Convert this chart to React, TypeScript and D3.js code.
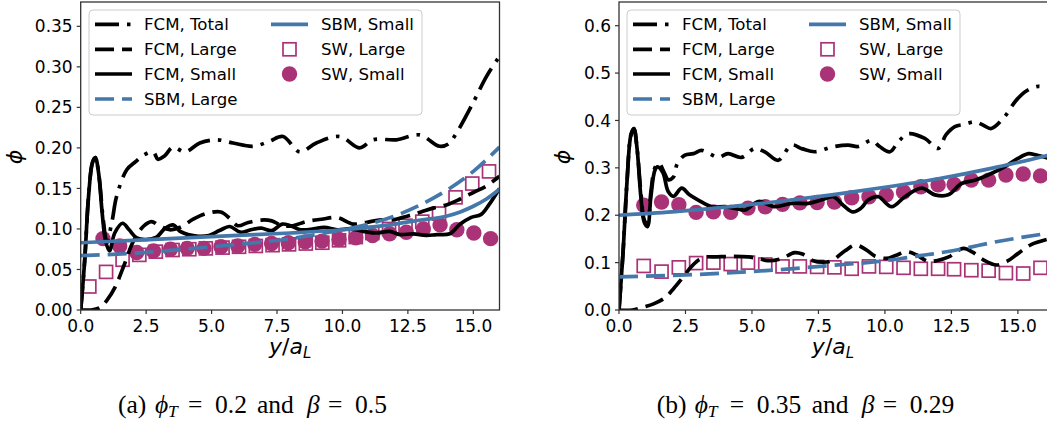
import React from 'react';
import * as d3 from 'd3';

type Pt = [number, number];

const W = 1047;
const H = 431;

const COLOR_FCM = '#000000';
const COLOR_SBM = '#4477AA';
const COLOR_SW = '#AA3377';

const xTicks = [0, 2.5, 5, 7.5, 10, 12.5, 15];
const leftYTicks = [0, 0.05, 0.1, 0.15, 0.2, 0.25, 0.3, 0.35];
const rightYTicks = [0, 0.1, 0.2, 0.3, 0.4, 0.5, 0.6];

const legendLabels = ['FCM, Total', 'FCM, Large', 'FCM, Small', 'SBM, Large', 'SBM, Small', 'SW, Large', 'SW, Small'];

// ---------- Panel (a): phi_T = 0.2, beta = 0.5 ----------
const aFcmTotal: Pt[] = [
  [0, 0], [0.15, 0.06], [0.3, 0.14], [0.45, 0.182], [0.56, 0.188], [0.7, 0.165], [0.85, 0.115], [1.0, 0.085],
  [1.2, 0.11], [1.37, 0.14], [1.76, 0.173], [2.1, 0.183], [2.4, 0.191], [2.77, 0.195], [2.95, 0.186], [3.2, 0.19],
  [3.53, 0.201], [3.98, 0.195], [4.55, 0.206], [5.19, 0.21], [5.82, 0.206], [6.59, 0.202], [7.2, 0.208],
  [7.73, 0.214], [8.37, 0.195], [9.0, 0.206], [9.9, 0.214], [10.66, 0.2], [11.17, 0.21], [12.06, 0.21],
  [12.95, 0.216], [13.71, 0.202], [14.05, 0.205], [14.35, 0.218], [14.98, 0.255], [15.5, 0.288], [16, 0.313],
];
const aFcmLarge: Pt[] = [
  [0, 0], [0.4, 0], [0.74, 0.003], [1.0, 0.012], [1.31, 0.028], [1.69, 0.058], [2.0, 0.084], [2.39, 0.103],
  [2.7, 0.109], [3.0, 0.104], [3.4, 0.099], [3.8, 0.102], [4.3, 0.112], [4.8, 0.119], [5.35, 0.121],
  [5.7, 0.113], [6.0, 0.104], [6.4, 0.108], [6.9, 0.111], [7.3, 0.11], [7.7, 0.104], [8.1, 0.104],
  [8.6, 0.109], [9.2, 0.112], [9.8, 0.114], [10.4, 0.106], [10.9, 0.108], [11.4, 0.111], [11.9, 0.111],
  [12.5, 0.116], [13.0, 0.121], [13.5, 0.126], [14.0, 0.13], [14.5, 0.137], [15.0, 0.145], [15.5, 0.153], [16, 0.165],
];
const aFcmSmall: Pt[] = [
  [0, 0], [0.15, 0.06], [0.3, 0.14], [0.45, 0.182], [0.56, 0.188], [0.68, 0.17], [0.82, 0.12], [0.95, 0.085],
  [1.1, 0.073], [1.3, 0.095], [1.6, 0.107], [1.85, 0.099], [2.14, 0.089], [2.5, 0.087], [2.9, 0.09],
  [3.2, 0.1], [3.53, 0.105], [3.8, 0.097], [4.1, 0.093], [4.5, 0.091], [4.9, 0.092], [5.3, 0.098], [5.7, 0.103],
  [6.1, 0.096], [6.5, 0.099], [6.9, 0.101], [7.3, 0.098], [7.7, 0.106], [8.0, 0.104], [8.4, 0.099],
  [8.9, 0.1], [9.3, 0.102], [9.8, 0.099], [10.3, 0.1], [10.8, 0.097], [11.3, 0.095], [11.8, 0.097],
  [12.2, 0.093], [12.7, 0.094], [13.2, 0.092], [13.6, 0.093], [14.1, 0.094], [14.5, 0.106], [14.9, 0.114],
  [15.3, 0.118], [15.6, 0.13], [16, 0.15],
];
const aSbmLarge: Pt[] = [
  [0, 0.067], [2, 0.07], [4, 0.075], [6, 0.081], [8, 0.088], [10, 0.099], [11, 0.106], [12, 0.116],
  [13, 0.13], [14, 0.148], [15, 0.171], [16, 0.201],
];
const aSbmSmall: Pt[] = [
  [0, 0.083], [2, 0.086], [4, 0.089], [6, 0.092], [8, 0.095], [10, 0.099], [11, 0.102], [12, 0.106],
  [13, 0.111], [14, 0.116], [14.5, 0.121], [15, 0.128], [15.5, 0.137], [16, 0.149],
];
const aSwLarge: Pt[] = [
  [0.33, 0.029], [0.97, 0.047], [1.6, 0.062], [2.24, 0.068], [2.87, 0.072], [3.51, 0.074], [4.15, 0.075],
  [4.78, 0.076], [5.42, 0.077], [6.05, 0.078], [6.69, 0.079], [7.33, 0.08], [7.96, 0.081], [8.6, 0.082],
  [9.23, 0.083], [9.87, 0.086], [10.51, 0.09], [11.14, 0.095], [11.78, 0.1], [12.41, 0.104], [13.05, 0.109],
  [13.69, 0.119], [14.32, 0.139], [14.96, 0.156], [15.6, 0.171],
];
const aSwSmall: Pt[] = [
  [0.85, 0.088], [1.49, 0.079], [2.14, 0.071], [2.78, 0.073], [3.43, 0.075], [4.07, 0.076], [4.71, 0.076],
  [5.36, 0.078], [6.0, 0.079], [6.65, 0.081], [7.29, 0.082], [7.93, 0.083], [8.58, 0.084], [9.22, 0.085],
  [9.87, 0.087], [10.51, 0.089], [11.15, 0.092], [11.8, 0.094], [12.44, 0.096], [13.09, 0.1], [13.73, 0.105],
  [14.37, 0.099], [15.02, 0.095], [15.66, 0.088],
];

// ---------- Panel (b): phi_T = 0.35, beta = 0.29 ----------
const bFcmTotal: Pt[] = [
  [0, 0], [0.15, 0.12], [0.3, 0.27], [0.45, 0.37], [0.56, 0.383], [0.68, 0.34], [0.82, 0.25], [0.95, 0.19],
  [1.07, 0.18], [1.2, 0.25], [1.35, 0.3], [1.5, 0.31], [1.7, 0.29], [1.85, 0.275], [2.04, 0.28], [2.2, 0.31],
  [2.48, 0.327], [2.8, 0.33], [3.1, 0.337], [3.4, 0.33], [3.73, 0.322], [4.1, 0.33], [4.6, 0.322],
  [5.11, 0.341], [5.5, 0.333], [5.99, 0.316], [6.49, 0.348], [6.9, 0.34], [7.37, 0.334], [8.0, 0.344],
  [8.62, 0.348], [9.0, 0.345], [9.5, 0.358], [9.8, 0.345], [10.19, 0.334], [10.5, 0.355], [10.88, 0.372],
  [11.5, 0.362], [12.0, 0.341], [12.3, 0.37], [12.63, 0.387], [13.0, 0.392], [13.38, 0.397], [13.7, 0.39],
  [14.0, 0.383], [14.5, 0.408], [14.9, 0.44], [15.26, 0.46], [15.76, 0.472], [16.17, 0.467],
];
const bFcmLarge: Pt[] = [
  [0, 0], [0.5, 0], [0.9, 0.006], [1.3, 0.013], [1.73, 0.026], [2.05, 0.045], [2.36, 0.066], [2.7, 0.09],
  [2.98, 0.105], [3.3, 0.112], [3.6, 0.112], [4.2, 0.113], [4.86, 0.112], [5.3, 0.108], [5.6, 0.104],
  [6.1, 0.108], [6.6, 0.121], [6.9, 0.118], [7.3, 0.104], [7.68, 0.101], [8.0, 0.104], [8.5, 0.125],
  [8.9, 0.137], [9.3, 0.127], [9.62, 0.114], [10.06, 0.109], [10.4, 0.115], [10.82, 0.123], [11.2, 0.116],
  [11.6, 0.103], [11.94, 0.104], [12.4, 0.112], [12.94, 0.13], [13.3, 0.122], [13.7, 0.106], [14.2, 0.095],
  [14.6, 0.103], [15.0, 0.119], [15.5, 0.138], [16.17, 0.15],
];
const bFcmSmall: Pt[] = [
  [0, 0], [0.15, 0.12], [0.3, 0.27], [0.45, 0.37], [0.56, 0.383], [0.68, 0.34], [0.82, 0.24], [0.95, 0.185],
  [1.07, 0.176], [1.2, 0.24], [1.35, 0.295], [1.45, 0.302], [1.65, 0.29], [1.85, 0.25], [2.05, 0.24],
  [2.36, 0.257], [2.65, 0.243], [2.98, 0.232], [3.48, 0.218], [4.0, 0.218], [4.4, 0.214], [4.74, 0.211],
  [5.24, 0.229], [5.86, 0.218], [6.49, 0.225], [7.12, 0.225], [7.6, 0.232], [8.06, 0.239], [8.45, 0.22],
  [8.8, 0.207], [9.1, 0.215], [9.37, 0.232], [9.75, 0.239], [10.25, 0.218], [10.75, 0.239], [11.38, 0.257],
  [11.88, 0.243], [12.38, 0.243], [12.88, 0.267], [13.38, 0.274], [13.88, 0.285], [14.5, 0.302], [15.0, 0.32],
  [15.4, 0.33], [15.7, 0.327], [16.17, 0.32],
];
const bSbmLarge: Pt[] = [
  [0, 0.07], [2, 0.073], [4, 0.078], [6, 0.085], [8, 0.094], [10, 0.104], [11, 0.112], [12, 0.12],
  [13, 0.13], [14, 0.142], [15, 0.152], [16.17, 0.162],
];
const bSbmSmall: Pt[] = [
  [0, 0.2], [2, 0.207], [4, 0.217], [6, 0.229], [8, 0.243], [10, 0.259], [12, 0.277], [14, 0.299], [16.17, 0.327],
];
const bSwLarge: Pt[] = [
  [0.93, 0.093], [1.6, 0.081], [2.25, 0.09], [2.9, 0.099], [3.55, 0.1], [4.2, 0.097], [4.85, 0.1], [5.5, 0.096],
  [6.15, 0.092], [6.8, 0.092], [7.45, 0.091], [8.1, 0.09], [8.75, 0.087], [9.4, 0.092], [10.05, 0.091],
  [10.7, 0.089], [11.35, 0.087], [12.0, 0.087], [12.6, 0.086], [13.25, 0.084], [13.9, 0.083], [14.55, 0.078],
  [15.2, 0.077], [15.85, 0.089],
];
const bSwSmall: Pt[] = [
  [0.93, 0.221], [1.6, 0.228], [2.25, 0.222], [2.9, 0.206], [3.55, 0.207], [4.2, 0.206], [4.85, 0.215],
  [5.5, 0.218], [6.15, 0.223], [6.8, 0.226], [7.45, 0.227], [8.1, 0.228], [8.75, 0.237], [9.4, 0.239],
  [10.05, 0.243], [10.7, 0.249], [11.35, 0.26], [12.0, 0.264], [12.6, 0.265], [13.25, 0.274], [13.9, 0.274],
  [14.55, 0.285], [15.2, 0.287], [15.85, 0.283],
];

const FONT = 'DejaVu Sans, sans-serif';
const SERIF = 'Liberation Serif, DejaVu Serif, serif';
const LW = 3.7;
const DASH = '19 8';
const DASHDOT = '24 8 3.5 8';

interface Series {
  total: Pt[]; large: Pt[]; small: Pt[]; sbmLarge: Pt[]; sbmSmall: Pt[]; swLarge: Pt[]; swSmall: Pt[];
}

interface PanelProps {
  id: string;
  px0: number; px1: number; py0: number; py1: number;
  xMax: number; yMax: number;
  yTicks: number[]; yDigits: number;
  data: Series;
  legendX: number;
  yLabelX: number;
}

function Square({ cx, cy }: { cx: number; cy: number }) {
  const s = 13;
  return <rect x={cx - s / 2} y={cy - s / 2} width={s} height={s} fill="#ffffff" stroke={COLOR_SW} strokeWidth={1.7} />;
}

function Legend({ x }: { x: number }) {
  const top = 10;
  const rows = [24.3, 49.3, 74, 99];
  const c1a = x + 6, c1b = x + 43, t1 = x + 55;
  const c2a = x + 182, c2b = x + 219, t2 = x + 232, m2 = x + 200.5;
  const txt = (tx: number, ty: number, s: string) => (
    <text x={tx} y={ty} dy="0.36em" fontFamily={FONT} fontSize={16.6} fill="#000">{s}</text>
  );
  return (
    <g>
      <rect x={x} y={top} width={333} height={105} rx={4} ry={4} fill="#ffffff" fillOpacity={0.8} stroke="#cccccc" strokeWidth={1} />
      <line x1={c1a} x2={c1b} y1={rows[0]} y2={rows[0]} stroke={COLOR_FCM} strokeWidth={LW} strokeDasharray={DASHDOT} />
      {txt(t1, rows[0], legendLabels[0])}
      <line x1={c1a} x2={c1b} y1={rows[1]} y2={rows[1]} stroke={COLOR_FCM} strokeWidth={LW} strokeDasharray={DASH} />
      {txt(t1, rows[1], legendLabels[1])}
      <line x1={c1a} x2={c1b} y1={rows[2]} y2={rows[2]} stroke={COLOR_FCM} strokeWidth={LW} />
      {txt(t1, rows[2], legendLabels[2])}
      <line x1={c1a} x2={c1b} y1={rows[3]} y2={rows[3]} stroke={COLOR_SBM} strokeWidth={LW} strokeDasharray={DASH} />
      {txt(t1, rows[3], legendLabels[3])}
      <line x1={c2a} x2={c2b} y1={rows[0]} y2={rows[0]} stroke={COLOR_SBM} strokeWidth={LW} />
      {txt(t2, rows[0], legendLabels[4])}
      <Square cx={m2} cy={rows[1]} />
      {txt(t2, rows[1], legendLabels[5])}
      <circle cx={m2} cy={rows[2]} r={7.7} fill={COLOR_SW} />
      {txt(t2, rows[2], legendLabels[6])}
    </g>
  );
}

function Panel(p: PanelProps) {
  const xs = d3.scaleLinear().domain([0, p.xMax]).range([p.px0, p.px1]);
  const ys = d3.scaleLinear().domain([0, p.yMax]).range([p.py0, p.py1]);
  const wiggly = d3.line<Pt>().x(d => xs(d[0])).y(d => ys(d[1])).curve(d3.curveCatmullRom.alpha(0.5));
  const smooth = d3.line<Pt>().x(d => xs(d[0])).y(d => ys(d[1])).curve(d3.curveMonotoneX);
  const clipId = `clip-${p.id}`;
  const axisColor = '#333333';
  const cx = (p.px0 + Math.min(p.px1, 1047)) / 2;
  return (
    <g>
      <defs>
        <clipPath id={clipId}>
          <rect x={p.px0} y={p.py1} width={p.px1 - p.px0} height={p.py0 - p.py1} />
        </clipPath>
      </defs>
      <g clipPath={`url(#${clipId})`}>
        {p.data.swLarge.map((d, i) => <Square key={`s${i}`} cx={xs(d[0])} cy={ys(d[1])} />)}
        {p.data.swSmall.map((d, i) => <circle key={`c${i}`} cx={xs(d[0])} cy={ys(d[1])} r={7.7} fill={COLOR_SW} />)}
        <path d={wiggly(p.data.total) || ''} fill="none" stroke={COLOR_FCM} strokeWidth={LW} strokeDasharray={DASHDOT} />
        <path d={wiggly(p.data.large) || ''} fill="none" stroke={COLOR_FCM} strokeWidth={LW} strokeDasharray={DASH} />
        <path d={wiggly(p.data.small) || ''} fill="none" stroke={COLOR_FCM} strokeWidth={LW} strokeLinejoin="round" />
        <path d={smooth(p.data.sbmLarge) || ''} fill="none" stroke={COLOR_SBM} strokeWidth={LW} strokeDasharray={DASH} />
        <path d={smooth(p.data.sbmSmall) || ''} fill="none" stroke={COLOR_SBM} strokeWidth={LW} />
      </g>
      <rect x={p.px0} y={p.py1} width={p.px1 - p.px0} height={p.py0 - p.py1} fill="none" stroke={axisColor} strokeWidth={1.3} />
      {xTicks.map(t => (
        <g key={`xt${t}`}>
          <line x1={xs(t)} x2={xs(t)} y1={p.py0} y2={p.py0 + 4} stroke={axisColor} strokeWidth={1.2} />
          <text x={xs(t)} y={p.py0 + 22} textAnchor="middle" fontFamily={FONT} fontSize={17} fill="#000">{t.toFixed(1)}</text>
        </g>
      ))}
      {p.yTicks.map(t => (
        <g key={`yt${t}`}>
          <line x1={p.px0 - 4} x2={p.px0} y1={ys(t)} y2={ys(t)} stroke={axisColor} strokeWidth={1.2} />
          <text x={p.px0 - 8} y={ys(t)} dy="0.36em" textAnchor="end" fontFamily={FONT} fontSize={17} fill="#000">{t.toFixed(p.yDigits)}</text>
        </g>
      ))}
      <text x={cx} y={354} textAnchor="middle" fontFamily={FONT} fontSize={22} fill="#000">
        <tspan fontStyle="italic">y</tspan><tspan>/</tspan><tspan fontStyle="italic">a</tspan>
        <tspan fontStyle="italic" fontSize={15} dy={4}>L</tspan>
      </text>
      <text transform={`translate(${p.yLabelX},157) rotate(-90)`} textAnchor="middle" dy="0.35em" fontFamily={FONT} fontStyle="italic" fontSize={22} fill="#000">ϕ</text>
      <Legend x={p.legendX} />
    </g>
  );
}

function Caption({ x, y, label, phiVal, betaVal, offsets }: { x: number; y: number; label: string; phiVal: string; betaVal: string; offsets: number[] }) {
  const fs = 25.5;
  const t = (i: number, s: string, extra: any = {}) => (
    <text x={x + offsets[i]} y={y} fontFamily={SERIF} fontSize={fs} fill="#000" {...extra}>{s}</text>
  );
  return (
    <g>
      {t(0, label)}
      {t(1, 'ϕ', { fontStyle: 'italic' })}
      <text x={x + offsets[2]} y={y + 4} fontFamily={SERIF} fontSize={17.5} fontStyle="italic" fill="#000">T</text>
      {t(3, '=')}
      {t(4, phiVal)}
      {t(5, 'and')}
      {t(6, 'β', { fontStyle: 'italic' })}
      {t(7, '=')}
      {t(8, betaVal)}
    </g>
  );
}

export default function App() {
  const dataA: Series = { total: aFcmTotal, large: aFcmLarge, small: aFcmSmall, sbmLarge: aSbmLarge, sbmSmall: aSbmSmall, swLarge: aSwLarge, swSmall: aSwSmall };
  const dataB: Series = { total: bFcmTotal, large: bFcmLarge, small: bFcmSmall, sbmLarge: bSbmLarge, sbmSmall: bSbmSmall, swLarge: bSwLarge, swSmall: bSwSmall };
  return (
    <svg width={W} height={H} viewBox={`0 0 ${W} ${H}`} style={{ position: 'absolute', left: 0, top: 0, display: 'block', background: '#fff' }}>
      <Panel id="a" px0={80.7} px1={499.5} py0={310} py1={2} xMax={16} yMax={0.38} yTicks={leftYTicks} yDigits={2} data={dataA} legendX={89} yLabelX={14} />
      <Panel id="b" px0={619} px1={1049} py0={310} py1={2} xMax={16.17} yMax={0.65} yTicks={rightYTicks} yDigits={1} data={dataB} legendX={627} yLabelX={562.5} />
      <Caption x={118} y={413} label="(a)" phiVal="0.2" betaVal="0.5" offsets={[0, 37, 50, 70, 97, 139, 189, 210, 237]} />
      <Caption x={656.7} y={413} label="(b)" phiVal="0.35" betaVal="0.29" offsets={[0, 38, 51, 73, 100, 155, 205, 226, 253]} />
    </svg>
  );
}
